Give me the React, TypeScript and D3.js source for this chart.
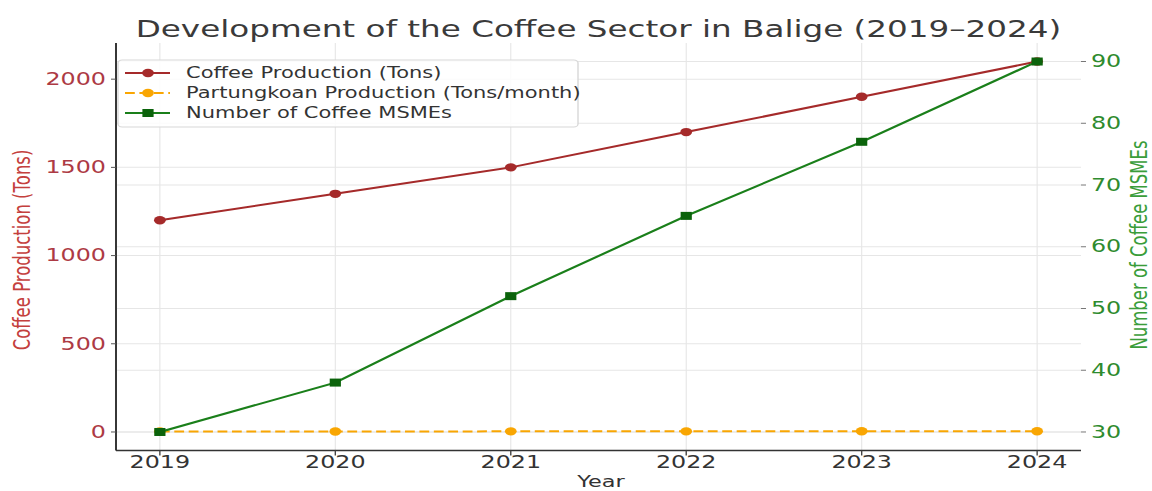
import React from "react";
import * as d3 from "d3";

// Data
const years = [2019, 2020, 2021, 2022, 2023, 2024];
const coffeeProduction = [1200, 1350, 1500, 1700, 1900, 2100];
const partungkoanProduction = [3, 3, 3.5, 3.5, 4, 4];
const coffeeMSMEs = [30, 38, 52, 65, 77, 90];
const leftTicks = [0, 500, 1000, 1500, 2000];
const rightTicks = [30, 40, 50, 60, 70, 80, 90];

const TITLE = "Development of the Coffee Sector in Balige (2019–2024)";
const LEFT_LABEL = "Coffee Production (Tons)";
const RIGHT_LABEL = "Number of Coffee MSMEs";
const X_LABEL = "Year";
const SERIES_NAMES = [
  "Coffee Production (Tons)",
  "Partungkoan Production (Tons/month)",
  "Number of Coffee MSMEs",
];

const W = 1152;
const H = 491;
// Horizontal stretch applied to the whole drawing.
const SX = 1.4;
const px = (v: number) => v / SX;

const AX_LEFT = 116;
const AX_RIGHT = 1081;
const AX_TOP = 43;
const AX_BOTTOM = 450.5;

const RED = "#a52a2a";
const RED_TEXT = "#ad3a44";
const RED_LABEL = "#c4403d";
const ORANGE = "#f9a602";
const GREEN = "#1a7f1a";
const GREEN_MARK = "#0b630b";
const GREEN_TEXT = "#2e8b2e";
const GREEN_LABEL = "#3a9d3a";
const GRID = "#e6e6e6";
const FONT = "DejaVu Sans, sans-serif";

export default function App() {
  const x = d3
    .scaleLinear()
    .domain([2018.75, 2024.25])
    .range([px(AX_LEFT), px(AX_RIGHT)]);
  const yL = d3.scaleLinear().domain([-105, 2205]).range([AX_BOTTOM, AX_TOP]);
  const yR = d3.scaleLinear().domain([27, 93]).range([AX_BOTTOM, AX_TOP]);

  const lineL = d3
    .line<number>()
    .x((_, i) => x(years[i]))
    .y((d) => yL(d));
  const lineR = d3
    .line<number>()
    .x((_, i) => x(years[i]))
    .y((d) => yR(d));

  const markR = 4.2;
  const sq = 8;

  return (
    <svg
      width={W}
      height={H}
      style={{ position: "absolute", left: 0, top: 0, background: "#fff" }}
      fontFamily={FONT}
    >
      <rect width={W} height={H} fill="#fff" />
      <g transform={`scale(${SX},1)`}>
        {/* grid */}
        {years.map((yr) => (
          <line
            key={"gx" + yr}
            x1={x(yr)}
            x2={x(yr)}
            y1={AX_TOP}
            y2={AX_BOTTOM}
            stroke={GRID}
            strokeWidth={0.8}
          />
        ))}
        {leftTicks.map((t) => (
          <line
            key={"gl" + t}
            x1={px(AX_LEFT)}
            x2={px(AX_RIGHT)}
            y1={yL(t)}
            y2={yL(t)}
            stroke={GRID}
            strokeWidth={1}
          />
        ))}
        {rightTicks.map((t) => (
          <line
            key={"gr" + t}
            x1={px(AX_LEFT)}
            x2={px(AX_RIGHT)}
            y1={yR(t)}
            y2={yR(t)}
            stroke={GRID}
            strokeWidth={1}
          />
        ))}

        {/* coffee production */}
        <path d={lineL(coffeeProduction) || ""} fill="none" stroke={RED} strokeWidth={2} />
        {coffeeProduction.map((v, i) => (
          <ellipse key={"cp" + i} cx={x(years[i])} cy={yL(v)} rx={markR} ry={markR} fill={RED} />
        ))}

        {/* partungkoan production */}
        <path
          d={lineL(partungkoanProduction) || ""}
          fill="none"
          stroke={ORANGE}
          strokeWidth={2}
          strokeDasharray="7,3.3"
        />
        {partungkoanProduction.map((v, i) => (
          <ellipse key={"pp" + i} cx={x(years[i])} cy={yL(v)} rx={markR} ry={markR} fill={ORANGE} />
        ))}

        {/* MSMEs */}
        <path d={lineR(coffeeMSMEs) || ""} fill="none" stroke={GREEN} strokeWidth={2} />
        {coffeeMSMEs.map((v, i) => (
          <rect
            key={"ms" + i}
            x={x(years[i]) - sq / 2}
            y={yR(v) - sq / 2}
            width={sq}
            height={sq}
            fill={GREEN_MARK}
          />
        ))}

        {/* spines */}
        <line
          x1={px(AX_LEFT)}
          x2={px(AX_LEFT)}
          y1={AX_TOP}
          y2={AX_BOTTOM}
          stroke="#333"
          strokeWidth={1.4}
        />
        <line
          x1={px(AX_LEFT)}
          x2={px(AX_RIGHT)}
          y1={AX_BOTTOM}
          y2={AX_BOTTOM}
          stroke="#333"
          strokeWidth={1.6}
        />

        {/* left ticks */}
        {leftTicks.map((t) => (
          <g key={"lt" + t}>
            <line
              x1={px(AX_LEFT - 5)}
              x2={px(AX_LEFT)}
              y1={yL(t)}
              y2={yL(t)}
              stroke="#555"
              strokeWidth={1}
            />
            <text
              x={px(AX_LEFT - 10)}
              y={yL(t)}
              textAnchor="end"
              dominantBaseline="central"
              fontSize={17}
              fill={RED_TEXT}
            >
              {t}
            </text>
          </g>
        ))}

        {/* right ticks */}
        {rightTicks.map((t) => (
          <g key={"rt" + t}>
            <line
              x1={px(AX_RIGHT)}
              x2={px(AX_RIGHT + 5)}
              y1={yR(t)}
              y2={yR(t)}
              stroke="#777"
              strokeWidth={1}
            />
            <text
              x={px(AX_RIGHT + 10)}
              y={yR(t)}
              textAnchor="start"
              dominantBaseline="central"
              fontSize={17}
              fill={GREEN_TEXT}
            >
              {t}
            </text>
          </g>
        ))}

        {/* bottom ticks */}
        {years.map((yr) => (
          <g key={"bt" + yr}>
            <line
              x1={x(yr)}
              x2={x(yr)}
              y1={AX_BOTTOM}
              y2={AX_BOTTOM + 5}
              stroke="#444"
              strokeWidth={1}
            />
            <text x={x(yr)} y={468.5} textAnchor="middle" fontSize={17} fill="#333">
              {yr}
            </text>
          </g>
        ))}

        {/* axis titles */}
        <text
          transform={`translate(${px(22)},250) rotate(-90)`}
          textAnchor="middle"
          dominantBaseline="central"
          fontSize={16.5}
          fill={RED_LABEL}
        >
          {LEFT_LABEL}
        </text>
        <text
          transform={`translate(${px(1139)},245) rotate(-90)`}
          textAnchor="middle"
          dominantBaseline="central"
          fontSize={16.5}
          fill={GREEN_LABEL}
        >
          {RIGHT_LABEL}
        </text>
        <text x={px(601)} y={487} textAnchor="middle" fontSize={16} fill="#333">
          {X_LABEL}
        </text>

        {/* title */}
        <text
          x={px((AX_LEFT + AX_RIGHT) / 2)}
          y={37}
          textAnchor="middle"
          fontSize={23.3}
          fill="#3a3a3a"
        >
          {TITLE}
        </text>

        {/* legend */}
        <rect
          x={px(118)}
          y={60}
          width={px(578) - px(118)}
          height={67}
          rx={3}
          fill="#fff"
          fillOpacity={0.85}
          stroke="#d8d8d8"
          strokeWidth={1}
        />
        {SERIES_NAMES.map((name, i) => {
          const cy = 73 + i * 20;
          const color = i === 0 ? RED : i === 1 ? ORANGE : GREEN;
          return (
            <g key={"lg" + i}>
              <line
                x1={px(125)}
                x2={px(170)}
                y1={cy}
                y2={cy}
                stroke={color}
                strokeWidth={2}
                strokeDasharray={i === 1 ? "7,3.3" : undefined}
              />
              {i === 2 ? (
                <rect
                  x={px(148) - sq / 2}
                  y={cy - sq / 2}
                  width={sq}
                  height={sq}
                  fill={GREEN_MARK}
                />
              ) : (
                <ellipse cx={px(148)} cy={cy} rx={markR} ry={markR} fill={color} />
              )}
              <text
                x={px(186)}
                y={cy}
                dominantBaseline="central"
                fontSize={15}
                fill="#333"
              >
                {name}
              </text>
            </g>
          );
        })}
      </g>
    </svg>
  );
}
